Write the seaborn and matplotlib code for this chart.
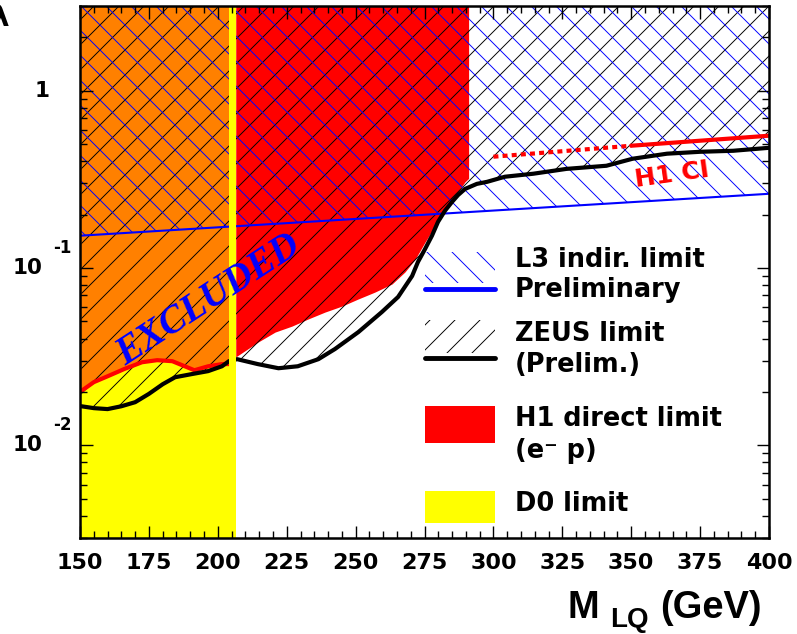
import numpy as np
import pandas as pd
import matplotlib
matplotlib.use("Agg")
import matplotlib.pyplot as plt
import seaborn as sns
from matplotlib.ticker import MultipleLocator, LogLocator, NullFormatter
from matplotlib.patches import Rectangle
from matplotlib.lines import Line2D

# ZEUS limit (black line, hatched above)
zeus_mass = [150.5, 155, 160, 165, 170, 175, 180, 184.5, 190.5, 196.5,
             201.5, 204, 207, 214.5, 222, 229, 236.5, 242.5, 251, 259.5,
             265.4, 270.5, 272.6, 275.2, 277.7, 279.9, 282.4, 285.0, 287.2, 289.7,
             294.0, 297.7, 304.2, 314.5, 326.5, 341, 350.5, 363, 375, 387, 400]
zeus_lambda = [0.0166, 0.0162, 0.0160, 0.0166, 0.0175, 0.0195, 0.0221, 0.0242, 0.0252, 0.0262,
               0.0279, 0.0298, 0.0306, 0.0287, 0.0272, 0.0279, 0.0306, 0.0349, 0.0435, 0.0564,
               0.0686, 0.0901, 0.108, 0.128, 0.152, 0.182, 0.210, 0.236, 0.258, 0.279,
               0.298, 0.306, 0.327, 0.340, 0.362, 0.377, 0.413, 0.441, 0.452, 0.458, 0.476]

# H1 direct limit inside the D0 region (orange above, red edge)
h1_low_mass = [150, 155, 160, 166, 172.5, 178, 183.5, 188, 191.5, 196.5, 201.5, 204.1]
h1_low_lambda = [0.0200, 0.0227, 0.0245, 0.0269, 0.0294, 0.0302, 0.0298, 0.0279, 0.0265, 0.0279, 0.0287, 0.0287]

# H1 direct limit beyond the D0 limit
h1_mass = [206.5, 214.6, 220.8, 226.9, 232.7, 238.9, 245.1, 250.9, 257.0, 263.2,
           267.9, 271.6, 275.2, 278.8, 282.4, 286.1, 289.7, 291]
h1_lambda = [0.0315, 0.0382, 0.0435, 0.0470, 0.0515, 0.0564, 0.0610, 0.0668, 0.0731, 0.0812,
             0.0949, 0.112, 0.140, 0.173, 0.216, 0.255, 0.306, 0.320]

# L3 indirect limit
l3_mass = [150, 400]
l3_lambda = [0.152, 0.262]

# H1 contact interaction limit
h1ci_dot_mass = [300, 350]
h1ci_dot_lambda = [0.424, 0.489]
h1ci_mass = [350, 400]
h1ci_lambda = [0.489, 0.557]

d0_limit = 206.5

x_ticks = [150, 175, 200, 225, 250, 275, 300, 325, 350, 375, 400]
y_ticks = [0.01, 0.1, 1]
y_tick_base = ["10", "10", "1"]
y_tick_exp = ["-2", "-1", ""]
legend_lines = [("L3 indir. limit", "Preliminary"),
                ("ZEUS limit", "(Prelim.)"),
                ("H1 direct limit", "(e\u207b p)"),
                ("D0 limit", "")]

y_min, y_max = 0.003, 3.0

# drawn at 75 dpi so the hatch spacing comes out near the original; sizes in points scaled by PT
DPI = 75
PT = 100 / DPI

sns.set_theme(style="ticks")
plt.rcParams["font.family"] = ["DejaVu Sans"]
plt.rcParams["font.weight"] = "bold"
plt.rcParams["text.color"] = "black"
plt.rcParams["xtick.color"] = "black"
plt.rcParams["ytick.color"] = "black"
plt.rcParams["hatch.linewidth"] = 0.9

YELLOW = "#ffff00"
ORANGE = "#ff8000"
RED = "#ff0000"
BLUE = "#0000ff"

fig = plt.figure(figsize=(797 / DPI, 634 / DPI), dpi=DPI)
ax = fig.add_axes([0.1004, 0.1514, 0.8645, 0.8391])
ax.set_yscale("log")
ax.set_xlim(150, 400)
ax.set_ylim(y_min, y_max)

# filled regions
ax.axvspan(150, d0_limit, color=YELLOW, lw=0, zorder=1)
ax.fill_between(h1_low_mass, h1_low_lambda, y_max, color=ORANGE, lw=0, zorder=2)
ax.fill_between(h1_mass, h1_lambda, y_max, color=RED, lw=0, zorder=2)
ax.fill_between(zeus_mass, zeus_lambda, y_max, facecolor="none", edgecolor="black",
                hatch="/", lw=0, zorder=3)
ax.fill_between(l3_mass, l3_lambda, y_max, facecolor="none", edgecolor=BLUE,
                hatch="\\", lw=0, zorder=3)

# limit lines
sns.lineplot(x=l3_mass, y=l3_lambda, color=BLUE, lw=1.5 * PT, sort=False, ax=ax, zorder=4)
sns.lineplot(x=h1_low_mass, y=h1_low_lambda, color=RED, lw=3 * PT, sort=False, ax=ax, zorder=4)
sns.lineplot(x=zeus_mass, y=zeus_lambda, color="black", lw=3 * PT, sort=False, ax=ax, zorder=5)
ax.axvspan(h1_low_mass[-1], d0_limit, color=YELLOW, lw=0, zorder=6)
ax.plot(h1ci_dot_mass, h1ci_dot_lambda, color=RED, lw=3 * PT, linestyle=(0, (1.2, 1.0)), zorder=5)
sns.lineplot(x=h1ci_mass, y=h1ci_lambda, color=RED, lw=3 * PT, sort=False, ax=ax, zorder=5)

ax.text(0.187, 0.447, "EXCLUDED", transform=ax.transAxes, rotation=33,
        ha="center", va="center", color=BLUE, fontsize=28 * PT, fontweight="bold",
        fontstyle="italic", family=["Liberation Serif", "DejaVu Serif"], zorder=8)
ax.text(0.859, 0.682, "H1 CI", transform=ax.transAxes, rotation=8,
        ha="center", va="center", color=RED, fontsize=18 * PT, zorder=8)

# legend drawn by hand
lx, lw_ = 0.5007, 0.1016
ax.add_patch(Rectangle((lx, 0.479), lw_, 0.059, transform=ax.transAxes, facecolor="none",
                       edgecolor=BLUE, hatch="\\", lw=0, zorder=8))
ax.add_line(Line2D([lx, lx + lw_], [0.468, 0.468], transform=ax.transAxes, color=BLUE,
                   lw=3.5 * PT, zorder=8))
ax.add_patch(Rectangle((lx, 0.348), lw_, 0.062, transform=ax.transAxes, facecolor="none",
                       edgecolor="black", hatch="/", lw=0, zorder=8))
ax.add_line(Line2D([lx, lx + lw_], [0.338, 0.338], transform=ax.transAxes, color="black",
                   lw=3.5 * PT, zorder=8))
ax.add_patch(Rectangle((lx, 0.179), lw_, 0.069, transform=ax.transAxes, facecolor=RED, lw=0, zorder=8))
ax.add_patch(Rectangle((lx, 0.028), lw_, 0.060, transform=ax.transAxes, facecolor=YELLOW, lw=0, zorder=8))
baselines = [(0.509, 0.453), (0.370, 0.312), (0.2105, 0.150), (0.0508, None)]
for (l1, l2), (b1, b2) in zip(legend_lines, baselines):
    ax.text(0.631, b1, l1, transform=ax.transAxes, fontsize=18.5 * PT, va="baseline", zorder=8)
    if l2:
        ax.text(0.631, b2, l2, transform=ax.transAxes, fontsize=18.5 * PT, va="baseline", zorder=8)

# axes styling
ax.xaxis.set_minor_locator(MultipleLocator(5))
ax.set_xticks(x_ticks)
ax.set_xticklabels([str(v) for v in x_ticks], fontsize=16 * PT, fontweight="bold")
ax.yaxis.set_major_locator(LogLocator(base=10))
ax.yaxis.set_minor_locator(LogLocator(base=10, subs=np.arange(2, 10)))
ax.yaxis.set_major_formatter(NullFormatter())
ax.yaxis.set_minor_formatter(NullFormatter())
ax.tick_params(which="both", direction="in", top=True, right=True, color="black", width=1 * PT)
ax.tick_params(which="major", length=9 * PT, pad=11 * PT)
ax.tick_params(which="minor", length=5 * PT)
ax.xaxis.set_zorder(10)
ax.yaxis.set_zorder(10)
for sp in ax.spines.values():
    sp.set_color("black")
    sp.set_linewidth(1.8 * PT)
    sp.set_zorder(10)

for val, base, exp in zip(y_ticks, y_tick_base, y_tick_exp):
    if exp:
        ax.text(-0.0552, val, base, transform=ax.get_yaxis_transform(), ha="right",
                va="center", fontsize=15.5 * PT)
        ax.annotate(exp, xy=(-0.039, val), xycoords=("axes fraction", "data"),
                    xytext=(0, 14.5 * PT), textcoords="offset points", ha="left",
                    va="center", fontsize=12 * PT)
    else:
        ax.text(-0.0435, val, base, transform=ax.get_yaxis_transform(), ha="right",
                va="center", fontsize=15.5 * PT)

# axis title  M_LQ (GeV)
lab_font = ["Liberation Sans", "DejaVu Sans"]
fig.text(567 / 797, 1 - 618 / 634, "M", family=lab_font, fontsize=27.5 * PT, va="baseline")
fig.text(610 / 797, 1 - 627 / 634, "LQ", family=lab_font, fontsize=20 * PT, va="baseline")
fig.text(660 / 797, 1 - 618 / 634, "(GeV)", family=lab_font, fontsize=27.5 * PT, va="baseline")
# cut-off y title at the top-left corner
fig.text(0.0, 0.972, "\u03bb", fontsize=20 * PT, ha="center", va="center")

fig.savefig("out.png", dpi=DPI)
